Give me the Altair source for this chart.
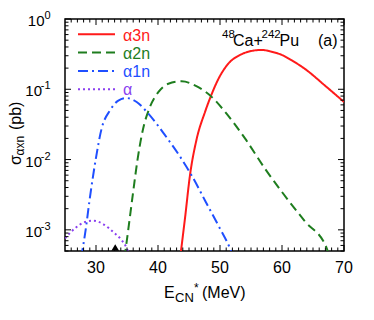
import altair as alt
import pandas as pd

# ---- data ----
names = ["α3n", "α2n", "α1n", "α"]
colors = ["#ff1a1a", "#1e7d1e", "#1f4fff", "#8a3ff0"]
dashes = [[1, 0], [9, 5], [10, 4, 2, 4], [2, 3]]

x_a3n = [43.6, 44.35, 45.16, 46.2, 47.6, 48.65, 49.7, 51.3, 53.5, 55.0, 56.7, 58.3, 59.95, 61.6, 63.7, 66.9, 70.0]
y_a3n = [4.2e-4, 1.45e-3, 6.0e-3, 0.019, 0.048, 0.085, 0.138, 0.229, 0.316, 0.35, 0.363, 0.343, 0.309, 0.257, 0.195, 0.1135, 0.066]

x_a2n = [34.6, 35.2, 36.0, 36.7, 37.6, 38.7, 40.05, 41.67, 43.8, 46.5, 48.65, 50.8, 54.03, 57.26, 59.95, 63.7, 67.2, 67.6]
y_a2n = [4.0e-4, 1.0e-3, 3.5e-3, 1.0e-2, 2.75e-2, 5.6e-2, 9.1e-2, 0.12, 0.13, 0.107, 0.078, 0.048, 0.02, 7.4e-3, 3.5e-3, 1.32e-3, 5.5e-4, 4.3e-4]

x_a1n = [27.6, 28.33, 29.0, 29.95, 30.9, 32.26, 33.6, 34.95, 36.56, 38.44, 41.1, 43.8, 45.4, 47.6, 49.7, 51.6, 52.1]
y_a1n = [4.0e-4, 1.0e-3, 2.8e-3, 1.0e-2, 2.75e-2, 5.0e-2, 6.9e-2, 7.5e-2, 6.6e-2, 4.5e-2, 2.24e-2, 1.02e-2, 6.0e-3, 2.6e-3, 1.17e-3, 5.5e-4, 4.3e-4]

x_a0n = [25.0, 26.6, 28.2, 29.6, 31.2, 32.8, 34.1, 34.95, 35.3]
y_a0n = [7.6e-4, 1.05e-3, 1.29e-3, 1.35e-3, 1.2e-3, 9.3e-4, 7.2e-4, 5.5e-4, 4.6e-4]

marker_x = [33.1]

x_major = [30, 40, 50, 60, 70]
x_minor = [v for v in range(26, 70) if v % 10 != 0]
y_major = [1e-3, 1e-2, 1e-1, 1.0]
y_exp = ["-3", "-2", "-1", "0"]
y_minor = [m * 10.0 ** d for d in (-4, -3, -2, -1) for m in range(2, 10) if m * 10.0 ** d >= 5e-4]

# ---- build table ----
rows = []
for nm, xs, ys in zip(names, [x_a3n, x_a2n, x_a1n, x_a0n], [y_a3n, y_a2n, y_a1n, y_a0n]):
    for i, (xv, yv) in enumerate(zip(xs, ys)):
        rows.append({"series": nm, "x": xv, "y": yv, "i": i})
df = pd.DataFrame(rows)

W, H = 279, 232
FONT = "Liberation Sans"
xscale = alt.Scale(domain=[25, 70], nice=False, zero=False)
yscale = alt.Scale(type="log", domain=[5e-4, 1], nice=False)
cscale = alt.Scale(domain=names, range=colors)
dscale = alt.Scale(domain=names, range=dashes)

lines = alt.Chart(df).mark_line(clip=True, strokeWidth=2, interpolate="monotone").encode(
    x=alt.X("x:Q", scale=xscale, axis=None),
    y=alt.Y("y:Q", scale=yscale, axis=None),
    color=alt.Color("series:N", scale=cscale, legend=None),
    strokeDash=alt.StrokeDash("series:N", scale=dscale, legend=None),
    order="i:Q",
)

layers = [lines]

# ticks (inward, on all four sides)
def xticks(vals, ln):
    src = pd.DataFrame({"v": vals})
    b = alt.Chart(src).mark_rule(color="black", strokeWidth=1).encode(
        x=alt.X("v:Q", scale=xscale, axis=None), y=alt.value(H), y2=alt.value(H - ln))
    t = alt.Chart(src).mark_rule(color="black", strokeWidth=1).encode(
        x=alt.X("v:Q", scale=xscale, axis=None), y=alt.value(0), y2=alt.value(ln))
    return [b, t]

def yticks(vals, ln):
    src = pd.DataFrame({"v": vals})
    l = alt.Chart(src).mark_rule(color="black", strokeWidth=1).encode(
        y=alt.Y("v:Q", scale=yscale, axis=None), x=alt.value(0), x2=alt.value(ln))
    r = alt.Chart(src).mark_rule(color="black", strokeWidth=1).encode(
        y=alt.Y("v:Q", scale=yscale, axis=None), x=alt.value(W), x2=alt.value(W - ln))
    return [l, r]

layers += xticks(x_major, 6) + xticks(x_minor, 3.5) + yticks(y_major, 6) + yticks(y_minor, 3.5)

# x tick labels
layers.append(alt.Chart(pd.DataFrame({"v": x_major})).mark_text(
    font=FONT, fontSize=16, align="center", baseline="alphabetic", color="black").encode(
    x=alt.X("v:Q", scale=xscale, axis=None), y=alt.value(H + 22), text="v:N"))

# y tick labels 10^n
ylab = pd.DataFrame({"v": y_major, "e": y_exp})
layers.append(alt.Chart(ylab).mark_text(
    font=FONT, fontSize=11, align="right", baseline="alphabetic", dy=0, color="black").encode(
    y=alt.Y("v:Q", scale=yscale, axis=None), x=alt.value(-14.5), text="e:N"))
layers.append(alt.Chart(ylab).transform_filter("datum.e != '0'").mark_text(
    font=FONT, fontSize=15, align="right", baseline="alphabetic", dy=7, color="black").encode(
    y=alt.Y("v:Q", scale=yscale, axis=None), x=alt.value(-23), text=alt.value("10")))
layers.append(alt.Chart(ylab).transform_filter("datum.e == '0'").mark_text(
    font=FONT, fontSize=15, align="right", baseline="alphabetic", dy=7, color="black").encode(
    y=alt.Y("v:Q", scale=yscale, axis=None), x=alt.value(-20.5), text=alt.value("10")))

# triangle marker
layers.append(alt.Chart(pd.DataFrame({"x": marker_x})).mark_point(
    shape="triangle-up", filled=True, color="black", opacity=1, size=60).encode(
    x=alt.X("x:Q", scale=xscale, axis=None), y=alt.value(H - 3.5)))

# legend
for k, nm in enumerate(names):
    yc = 15.3 + 18.3 * k
    src = pd.DataFrame({"series": [nm]})
    layers.append(alt.Chart(src).mark_rule(strokeWidth=2).encode(
        x=alt.value(13), x2=alt.value(50), y=alt.value(yc),
        color=alt.Color("series:N", scale=cscale, legend=None),
        strokeDash=alt.StrokeDash("series:N", scale=dscale, legend=None)))
    layers.append(alt.Chart(src).mark_text(font=FONT, fontSize=16, align="left", baseline="alphabetic").encode(
        x=alt.value(58), y=alt.value(yc + 6.2), text="series:N",
        color=alt.Color("series:N", scale=cscale, legend=None)))

# free text pieces: (text, x, y, size, angle)
pieces = [
    ("48", 157, 18.5, 11.5, 0), ("Ca+", 168, 26.5, 16, 0), ("242", 196.5, 18.5, 11.5, 0),
    ("Pu", 214.5, 26.5, 16, 0), ("(a)", 253, 26.5, 16, 0),
    ("E", 99, 279, 16, 0), ("CN", 110, 282.7, 13, 0), ("*", 129, 273, 12, 0), ("(MeV)", 137, 279, 16, 0),
    ("σ", -44.5, 146, 16, 270), ("αxn", -41.5, 136.5, 12, 270), ("(pb)", -44.5, 111, 16, 270),
]
for t, px, py, fs, ang in pieces:
    layers.append(alt.Chart(pd.DataFrame({"t": [t]})).mark_text(
        font=FONT, fontSize=fs, align="left", baseline="alphabetic", angle=ang, color="black").encode(
        x=alt.value(px), y=alt.value(py), text="t:N"))

chart = alt.layer(*layers).properties(
    width=W, height=H,
    autosize=alt.AutoSizeParams(type="none"),
    padding={"left": 57, "top": 11, "right": 22, "bottom": 60},
).configure_view(stroke="black", strokeWidth=1.5)

chart.save("out.html", embed_options={"renderer": "svg", "actions": False})
